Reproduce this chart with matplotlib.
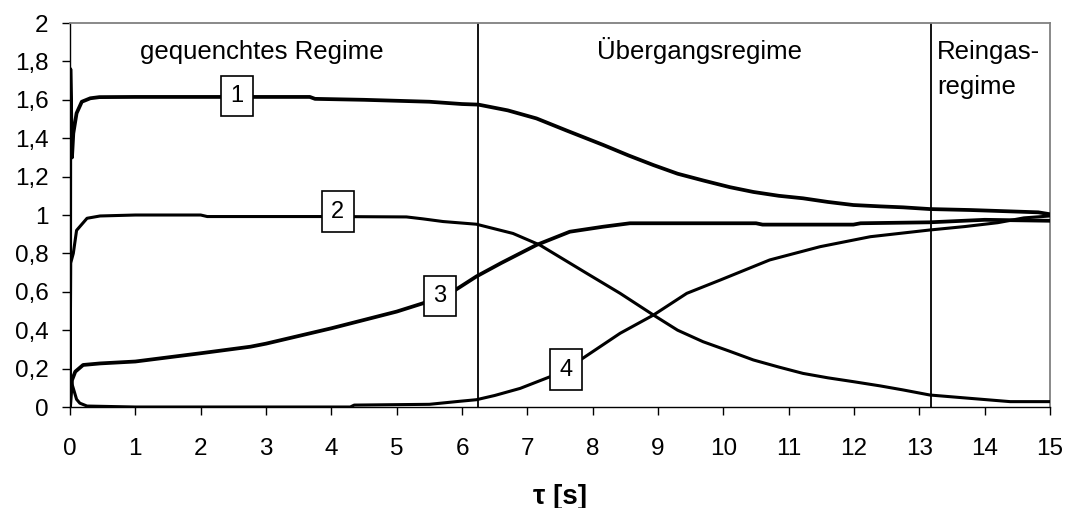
import matplotlib
matplotlib.use("Agg")
import matplotlib.pyplot as plt
from matplotlib.ticker import FuncFormatter

# ---- data ----
t1 = [0, 0.005, 0.03, 0.05, 0.1, 0.18, 0.31, 0.45, 1, 2, 3, 3.67, 3.75, 4.5, 5.5, 6.0, 6.25,
      6.7, 7.14, 7.6, 8.16, 8.55, 8.93, 9.3, 9.69, 10.1, 10.46, 10.85, 11.22, 11.6, 11.99,
      12.4, 12.75, 13.16, 13.78, 14.3, 14.82, 15]
v1 = [0, 1.76, 1.30, 1.425, 1.53, 1.59, 1.608, 1.614, 1.615, 1.615, 1.615, 1.615, 1.605, 1.60,
      1.59, 1.578, 1.575, 1.545, 1.503, 1.44, 1.365, 1.31, 1.26, 1.215, 1.18, 1.145, 1.12,
      1.10, 1.087, 1.068, 1.052, 1.045, 1.04, 1.031, 1.026, 1.02, 1.014, 1.004]

t2 = [0, 0.01, 0.05, 0.1, 0.26, 0.46, 1, 2.0, 2.1, 3, 4, 5.15, 5.4, 5.71, 6.22, 6.78, 7.19,
      7.55, 7.91, 8.42, 8.93, 9.3, 9.69, 10.1, 10.46, 10.85, 11.22, 11.6, 11.99, 12.4, 12.75,
      13.16, 13.78, 14.39, 15]
v2 = [0, 0.75, 0.80, 0.92, 0.983, 0.995, 1.0, 1.0, 0.992, 0.992, 0.992, 0.99, 0.98, 0.966,
      0.952, 0.904, 0.844, 0.77, 0.696, 0.592, 0.479, 0.40, 0.34, 0.29, 0.245, 0.208, 0.175,
      0.152, 0.132, 0.11, 0.089, 0.0625, 0.045, 0.028, 0.028]

t3 = [0, 0.03, 0.08, 0.2, 0.46, 1, 2, 2.76, 3, 4, 5, 5.4, 5.9, 6.22, 6.6, 7.14, 7.65, 8.16,
      8.57, 10.5, 10.6, 11.99, 12.1, 13.16, 14, 15]
v3 = [0, 0.14, 0.184, 0.219, 0.227, 0.237, 0.28, 0.314, 0.33, 0.41, 0.497, 0.54, 0.61, 0.68,
      0.75, 0.844, 0.913, 0.939, 0.957, 0.957, 0.95, 0.95, 0.957, 0.962, 0.975, 0.97]

t4 = [0, 0.03, 0.1, 0.15, 0.26, 1, 4.29, 4.35, 5.5, 5.97, 6.22, 6.5, 6.89, 7.35, 7.81, 8.42,
      8.93, 9.44, 9.95, 10.71, 11.48, 12.25, 13.16, 13.7, 14.2, 14.6, 15]
v4 = [0.17, 0.12, 0.04, 0.02, 0.005, 0, 0, 0.01, 0.014, 0.03, 0.038, 0.06, 0.097, 0.158,
      0.245, 0.384, 0.479, 0.592, 0.661, 0.766, 0.835, 0.887, 0.922, 0.94, 0.96, 0.985, 0.995]

curve_labels = ["1", "2", "3", "4"]
label_pos = [(2.56, 1.62), (4.10, 1.016), (5.66, 0.578), (7.59, 0.195)]

regime_bounds = [6.24, 13.18]
regime_texts = ["gequenchtes Regime", "Übergangsregime", "Reingas-", "regime"]

x_ticks = list(range(0, 16))
y_ticks = [0, 0.2, 0.4, 0.6, 0.8, 1.0, 1.2, 1.4, 1.6, 1.8, 2.0]
x_label = "τ [s]"

# ---- figure ----
plt.rcParams['font.family'] = ['Liberation Sans', 'DejaVu Sans']
fig = plt.figure(figsize=(10.66, 5.08), dpi=100)
ax = fig.add_axes([0.0657, 0.1988, 0.9193, 0.7559])

series = [(t1, v1, 2.7), (t2, v2, 2.2), (t3, v3, 2.7), (t4, v4, 2.2)]
for t, v, lw in series:
    ax.plot(t, v, color='black', lw=lw, solid_joinstyle='round', solid_capstyle='round', zorder=3)

for xb in regime_bounds:
    ax.axvline(xb, color='black', lw=1.3, zorder=2)

for lab, (x, y) in zip(curve_labels, label_pos):
    ax.text(x, y, lab, ha='center', va='center', fontsize=17, zorder=5,
            bbox=dict(boxstyle='square,pad=0.4', fc='white', ec='black', lw=1.2))

rfs = 18.5
ax.text(2.93, 1.811, regime_texts[0], ha='center', va='baseline', fontsize=rfs)
ax.text(9.64, 1.811, regime_texts[1], ha='center', va='baseline', fontsize=rfs)
ax.text(13.27, 1.811, regime_texts[2], ha='left', va='baseline', fontsize=rfs)
ax.text(13.27, 1.63, regime_texts[3], ha='left', va='baseline', fontsize=rfs)

ax.set_xlim(0, 15)
ax.set_ylim(0, 2)
ax.set_xticks(x_ticks)
ax.set_yticks(y_ticks)
ax.yaxis.set_major_formatter(FuncFormatter(lambda v, p: ('%g' % v).replace('.', ',')))
ax.tick_params(axis='both', direction='out', length=5.5, width=1.0, labelsize=17.5, color='black')
ax.tick_params(axis='x', pad=17)
ax.tick_params(axis='y', pad=10)

for s in ['top', 'right']:
    ax.spines[s].set_color('#808080')
    ax.spines[s].set_linewidth(1.3)
for s in ['left', 'bottom']:
    ax.spines[s].set_color('black')
    ax.spines[s].set_linewidth(1.0)

ax.set_xlabel(x_label, fontsize=20, fontweight='bold', labelpad=17)

fig.savefig('out.png', dpi=100)
